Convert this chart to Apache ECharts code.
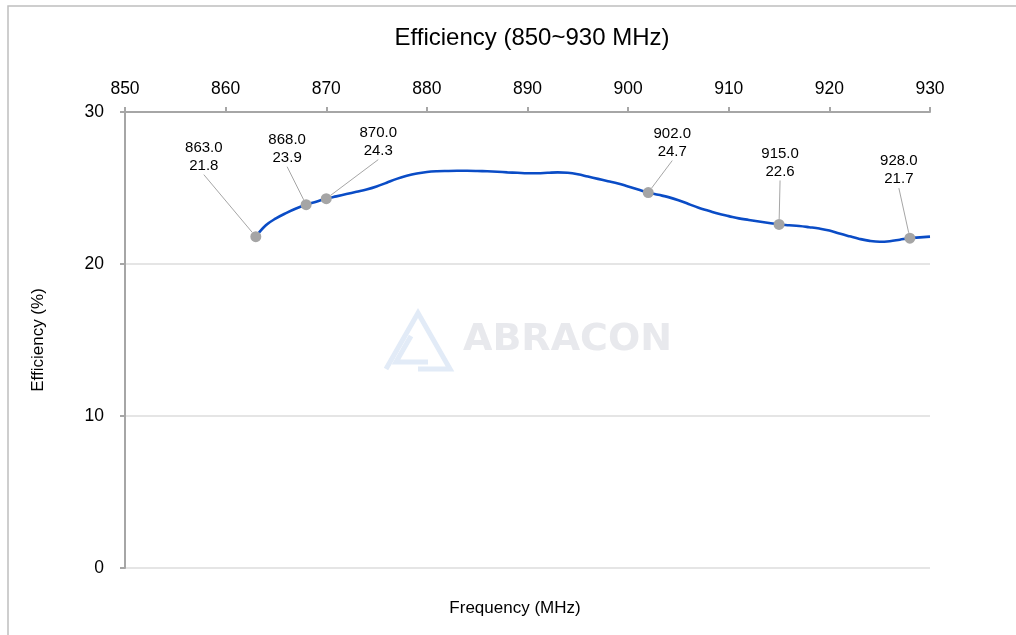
<!DOCTYPE html>
<html>
<head>
<meta charset="utf-8">
<script src="https://cdn.jsdelivr.net/npm/echarts@6/dist/echarts.min.js"></script>
<style>html,body{margin:0;padding:0;background:#fff;}#c{width:1016px;height:635px;}</style>
</head>
<body>
<div id="c"></div>
<script>
// ---- data ----
const freqs = [863,864,865,866,867,868,869,870,871,872,873,874,875,876,877,878,879,880,881,882,883,884,885,886,887,888,889,890,891,892,893,894,895,896,897,898,899,900,901,902,903,904,905,906,907,908,909,910,911,912,913,914,915,916,917,918,919,920,921,922,923,924,925,926,927,928,929,930];
const effs  = [21.8,22.55,23.0,23.35,23.65,23.9,24.1,24.3,24.45,24.6,24.75,24.9,25.1,25.35,25.6,25.8,25.95,26.05,26.1,26.12,26.13,26.13,26.12,26.1,26.07,26.03,26.0,25.97,25.97,26.0,26.03,26.0,25.9,25.75,25.6,25.45,25.3,25.1,24.9,24.7,24.55,24.4,24.2,23.95,23.7,23.5,23.3,23.15,23.0,22.9,22.8,22.7,22.6,22.55,22.5,22.42,22.33,22.2,22.0,21.82,21.65,21.52,21.46,21.5,21.6,21.7,21.75,21.8];
const markerFreqs = [863, 868, 870, 902, 915, 928];
const markerEffs  = [21.8, 23.9, 24.3, 24.7, 22.6, 21.7];
const xTicks = [850, 860, 870, 880, 890, 900, 910, 920, 930];
const yTicks = [0, 10, 20, 30];

// label displacement (style only)
const labelOffsets = [[-52,-80],[-19,-56],[52,-57],[24,-50],[1,-62],[-11,-68]];

const FONT = '"Liberation Sans", Arial, sans-serif';
const chart = echarts.init(document.getElementById('c'), null, {renderer:'canvas'});

chart.setOption({
  animation: false,
  backgroundColor: '#fff',
  title: {
    text: 'Efficiency (850~930 MHz)',
    left: 527, top: 21, textAlign: 'center',
    textStyle: {fontFamily: FONT, fontSize: 24, fontWeight: 'normal', color: '#000'}
  },
  grid: {left: 125, right: 86, top: 112, bottom: 67},
  xAxis: {
    type: 'value', position: 'top',
    min: xTicks[0], max: xTicks[xTicks.length-1], interval: 10,
    axisLine: {show: true, onZero: false, lineStyle: {color: '#a6a6a6', width: 2}},
    axisTick: {show: true, inside: false, length: 5, lineStyle: {color: '#a6a6a6', width: 2}},
    axisLabel: {margin: 14, fontFamily: FONT, fontSize: 17.5, color: '#000'},
    splitLine: {show: false}
  },
  yAxis: {
    type: 'value', min: yTicks[0], max: yTicks[yTicks.length-1], interval: 10,
    name: 'Efficiency (%)', nameLocation: 'middle', nameGap: 78,
    nameTextStyle: {fontFamily: FONT, fontSize: 17, color: '#000'},
    axisLine: {show: true, onZero: false, lineStyle: {color: '#a6a6a6', width: 2}},
    axisTick: {show: true, inside: false, length: 5, lineStyle: {color: '#a6a6a6', width: 2}},
    axisLabel: {margin: 21, fontFamily: FONT, fontSize: 17.5, color: '#000'},
    splitLine: {show: true, lineStyle: {color: '#dcdcdc', width: 1.5}}
  },
  graphic: [
    {type: 'rect', silent: true, z: -10,
     shape: {x: 8, y: 6, width: 1200, height: 800},
     style: {fill: 'none', stroke: '#bfbfbf', lineWidth: 1.5}},
    {type: 'text', silent: true, x: 515, y: 608,
     style: {text: 'Frequency (MHz)', fontFamily: FONT, fontSize: 17, fill: '#000',
             textAlign: 'center', textVerticalAlign: 'middle'}},
    {type: 'group', silent: true, z: -5, children: [
      {type: 'polyline', shape: {points: [[386,369],[418,313],[450,369],[418,369]]},
       style: {fill: 'none', stroke: '#e2ebf7', lineWidth: 5, lineJoin: 'miter'}},
      {type: 'polyline', shape: {points: [[411,336],[396,362],[428,362]]},
       style: {fill: 'none', stroke: '#e2ebf7', lineWidth: 5}},
      {type: 'text', x: 463, y: 340,
       style: {text: 'ABRACON', fontFamily: '"DejaVu Sans", sans-serif', fontWeight: 'bold', fontSize: 38,
               fill: '#e8e9ed', textVerticalAlign: 'middle', textAlign: 'left'}}
    ]}
  ],
  series: [
    {
      type: 'line',
      data: freqs.map((f, i) => [f, effs[i]]),
      smooth: 0.4, showSymbol: false, symbol: 'none',
      lineStyle: {color: '#0a4cc6', width: 2.6},
      z: 2
    },
    {
      type: 'scatter',
      data: markerFreqs.map((f, i) => [f, markerEffs[i]]),
      symbolSize: 11,
      itemStyle: {color: '#a5a5a5', opacity: 1},
      z: 3,
      label: {
        show: true, position: 'inside',
        formatter: p => p.value[0].toFixed(1) + '\n' + p.value[1].toFixed(1),
        fontFamily: FONT, fontSize: 15, lineHeight: 18, color: '#000', align: 'center',
        textBorderWidth: 0, opacity: 1
      },
      labelLine: {show: true, lineStyle: {color: '#a6a6a6', width: 1, opacity: 1}},
      labelLayout: p => ({dx: labelOffsets[p.dataIndex][0], dy: labelOffsets[p.dataIndex][1]})
    }
  ]
});
</script>
</body>
</html>
